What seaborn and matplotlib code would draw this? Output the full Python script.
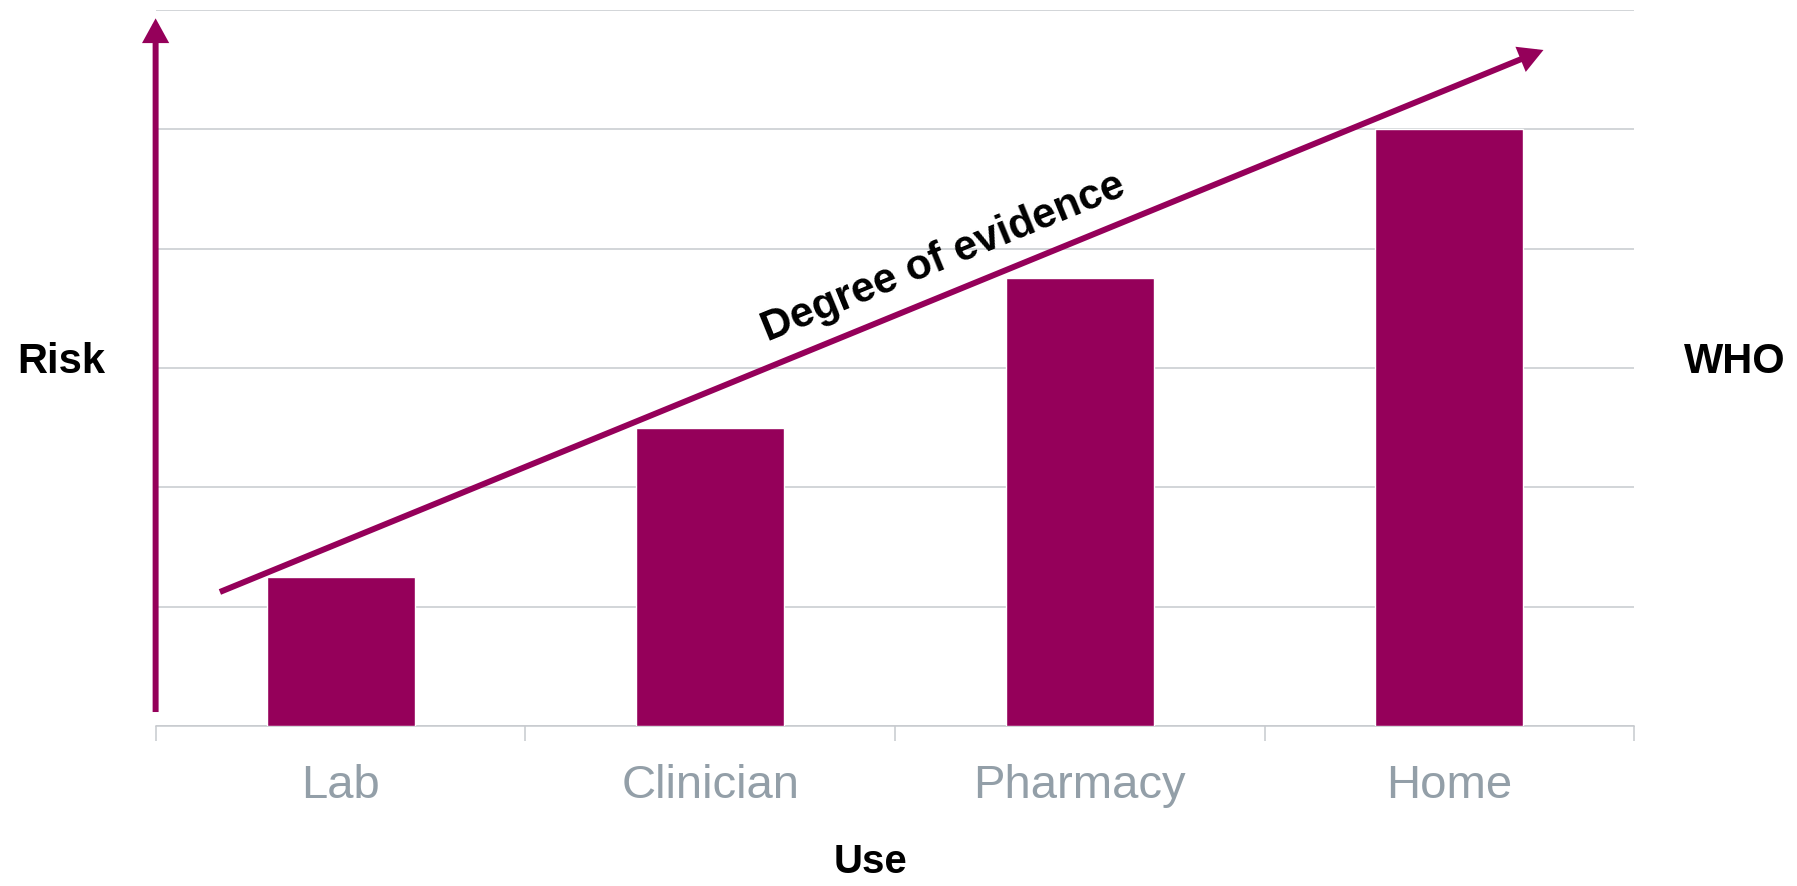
import seaborn as sns
import matplotlib.pyplot as plt
import pandas as pd

# Data
uses = ["Lab", "Clinician", "Pharmacy", "Home"]
risk = [1.25, 2.5, 3.75, 5.0]

bar_color = "#95005A"
grid_color = "#C6CACE"
label_color = "#939FA8"

sns.set_theme(style="white")
plt.rcParams['font.family'] = ['Liberation Sans', 'DejaVu Sans']

df = pd.DataFrame({"Use": uses, "Risk": risk})

fig = plt.figure(figsize=(17.97, 8.87), dpi=100)
ax = fig.add_axes([0.0868, 0.1804, 0.8225, 0.8072])

sns.barplot(data=df, x="Use", y="Risk", color=bar_color, width=0.4,
            saturation=1, ax=ax, zorder=3)

ax.set_xlim(-0.5, 3.5)
ax.set_ylim(0, 6)

# horizontal gridlines
ax.set_yticks(range(0, 7))
ax.yaxis.grid(True, color=grid_color, linewidth=1.1)
ax.set_axisbelow(True)
ax.tick_params(axis="y", left=False, labelleft=False)

# category boundary ticks + centred labels
ax.set_xticks([-0.5, 0.5, 1.5, 2.5, 3.5])
ax.set_xticklabels([])
ax.set_xticks(range(len(uses)), minor=True)
ax.set_xticklabels(uses, minor=True)
ax.tick_params(axis="x", which="major", bottom=True, length=10.8,
               width=1.1, color=grid_color, direction="out")
ax.tick_params(axis="x", which="minor", bottom=False, length=0, pad=27,
               labelsize=34, labelcolor=label_color)
ax.set_xlabel("")
ax.set_ylabel("")

for s in ["top", "right", "left"]:
    ax.spines[s].set_visible(False)
ax.spines["bottom"].set_color(grid_color)
ax.spines["bottom"].set_linewidth(1.1)

# arrows
arrow_kw = dict(arrowstyle="-|>,head_length=0.4,head_width=0.22",
                mutation_scale=28, lw=4.3, color=bar_color,
                shrinkA=0, shrinkB=0, capstyle="butt", joinstyle="miter")
ax.annotate("", xy=(-0.501, 5.93), xytext=(-0.501, 0.117),
            arrowprops=arrow_kw, annotation_clip=False)
ax.annotate("", xy=(3.255, 5.665), xytext=(-0.327, 1.123),
            arrowprops=arrow_kw, annotation_clip=False)

ax.text(1.63, 3.93, "Degree of evidence", rotation=22.25,
        rotation_mode="anchor", ha="center", va="center",
        fontsize=30.5, fontweight="bold", color="black")

fig.text(17 / 1797, 1 - 362 / 887, "Risk", ha="left", va="center",
         fontsize=30, fontweight="bold", color="black")
fig.text(1786 / 1797, 1 - 362 / 887, "WHO", ha="right", va="center",
         fontsize=30, fontweight="bold", color="black")
fig.text(870 / 1797, 1 - 862 / 887, "Use", ha="center", va="center",
         fontsize=29, fontweight="bold", color="black")

fig.savefig("out.png", dpi=100)
